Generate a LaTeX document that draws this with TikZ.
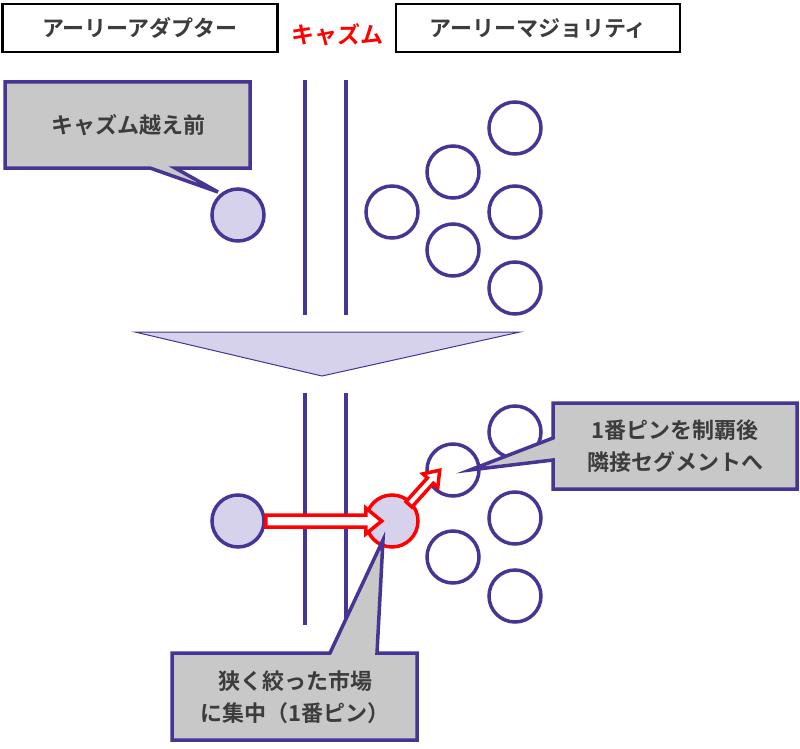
\documentclass[tikz,border=0pt]{standalone}
\usepackage{fontspec}
\setmainfont{Noto Sans CJK JP}[BoldFont={Noto Sans CJK JP Bold}]
\begin{document}
\begin{tikzpicture}[x=1pt,y=-1pt,
  pur/.style={draw={rgb,255:red,72;green,52;blue,148},line width=3.5pt},
  fillc/.style={pur,circle,minimum size=52pt,inner sep=0pt,fill={rgb,255:red,214;green,210;blue,236}},
  emptyc/.style={pur,circle,minimum size=52pt,inner sep=0pt,fill=white},
  hbox/.style={draw=black,line width=2.5pt,fill=white,font=\bfseries\fontsize{22}{24}\selectfont,text={rgb,255:red,60;green,60;blue,60}},
  callt/.style={font=\bfseries\fontsize{22}{32}\selectfont,text={rgb,255:red,60;green,60;blue,60},align=center},
  callf/.style={pur,fill={rgb,255:red,200;green,200;blue,200},line join=miter},
  redarr/.style={draw=red,line width=3.5pt,fill=white,line join=miter}]
\useasboundingbox (0,0) rectangle (800,749);
% header
\node[hbox,minimum width=275pt,minimum height=48pt] (ea) at (140,28) {アーリーアダプター};
\node[hbox,minimum width=284pt,minimum height=48pt] (em) at (538,28) {アーリーマジョリティ};
\node[font=\bfseries\fontsize{23}{24}\selectfont,text=red] (ch) at (337,35) {キャズム};
% lines
\draw[pur] (305,80) -- (305,315) (346,80) -- (346,315);
\draw[pur] (305,393) -- (305,625) (346,393) -- (346,625);
% top circles
\node[fillc] (a1) at (238,215) {};
\foreach \n/\x/\y in {b1/392/212,b2/453/172,b3/453/250,b4/515/128,b5/515/212,b6/515/288}
  \node[emptyc] (\n) at (\x,\y) {};
% callout 1
\draw[callf] (5,82) -- (250,82) -- (250,168) -- (175,168) -- (218,192) -- (150,168) -- (5,168) -- cycle;
\node[callt] (c1) at (128,125) {キャズム越え前};
% triangle
\draw[pur,line width=1pt,fill={rgb,255:red,214;green,210;blue,236}] (135,332) -- (520,332) -- (322,376) -- cycle;
% bottom circles
\node[fillc] (a2) at (238,521) {};
\foreach \n/\x/\y in {d2/453/470,d3/453/557,d4/515/432,d5/515/518,d6/515/596}
  \node[emptyc] (\n) at (\x,\y) {};
\node[fillc,draw=red] (d1) at (392,521) {};
% callout 2
\draw[callf] (553,403) -- (797,403) -- (797,489) -- (553,489) -- (553,460) -- (470,470) -- (553,438) -- cycle;
\node[callt] (c2) at (675,446) {1番ピンを制覇後\\隣接セグメントへ};
% callout 3
\draw[callf] (172,653) -- (330,653) -- (383,540) -- (377,653) -- (417,653) -- (417,740) -- (172,740) -- cycle;
\node[callt] (c3) at (295,697) {狭く絞った市場\\に集中（1番ピン）};
% red arrows
\begin{scope}[shift={(a2.east)}]
\draw[redarr] (0,-6) -- (100,-6) -- (100,-13) -- (116,0) -- (100,13) -- (100,6) -- (0,6) -- cycle;
\end{scope}
\begin{scope}[shift={(d1.45)},rotate=48]
\draw[redarr] (-4,-4) -- (28,-4) -- (28,-10) -- (42,0) -- (28,10) -- (28,4) -- (-4,4) -- cycle;
\end{scope}
\end{tikzpicture}
\end{document}
